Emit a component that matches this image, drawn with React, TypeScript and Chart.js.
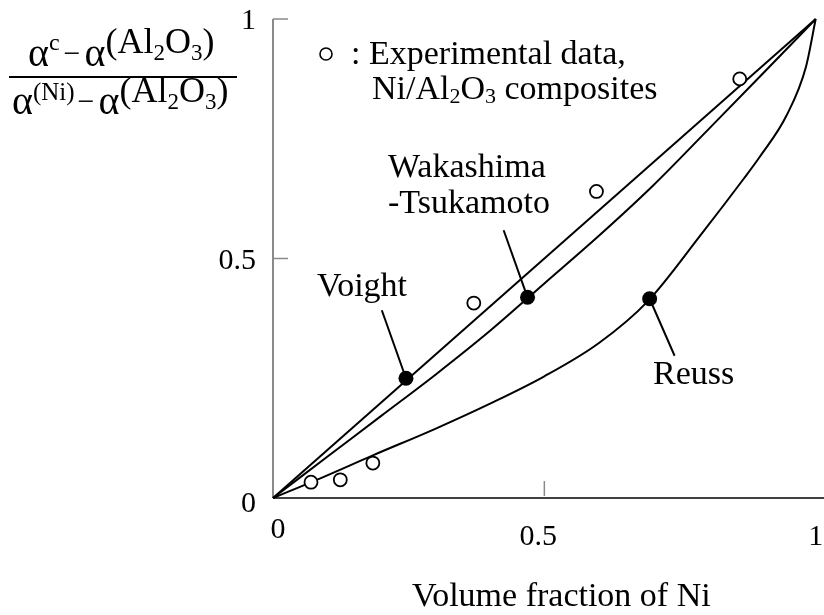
import React, { useEffect, useRef } from 'react';
import { Chart, registerables } from 'chart.js';

Chart.register(...registerables);

// ---- data ----
const voigtX = [0, 1];
const voigtY = [0, 1];

const wakaX = [0, 0.1, 0.2, 0.3, 0.4, 0.5, 0.6, 0.7, 0.8, 0.9, 1.0];
const wakaY = [0, 0.086, 0.172, 0.258, 0.349, 0.448, 0.547, 0.652, 0.767, 0.883, 1.0];

const reussX = [0, 0.085, 0.184, 0.3, 0.4, 0.5, 0.6, 0.69, 0.79, 0.867, 0.898, 0.946, 0.982, 1];
const reussY = [0, 0.04, 0.089, 0.145, 0.197, 0.254, 0.323, 0.41, 0.552, 0.666, 0.714, 0.798, 0.9, 1];

const expX = [0.07, 0.124, 0.184, 0.37, 0.596, 0.86];
const expY = [0.033, 0.038, 0.073, 0.407, 0.64, 0.875];

const markX = [0.245, 0.469, 0.694];
const markY = [0.25, 0.419, 0.416];

// leader lines: [label end, marker]
const voigtLeaderX = [0.2005, 0.245];
const voigtLeaderY = [0.392, 0.25];
const wakaLeaderX = [0.425, 0.469];
const wakaLeaderY = [0.559, 0.419];
const reussLeaderX = [0.694, 0.74];
const reussLeaderY = [0.416, 0.297];

const xTicks = [0, 0.5, 1];
const xTickLabels = ['0', '0.5', '1'];
const yTicks = [0, 0.5, 1];
const yTickLabels = ['0', '0.5', '1'];

const SERIF = "'Liberation Serif', 'Times New Roman', serif";

const pts = (xs: number[], ys: number[]) => xs.map((x, i) => ({ x, y: ys[i] }));

// [text, font size, baseline shift, gap after]
type Run = [string, number, number, number?];
function drawRuns(ctx: CanvasRenderingContext2D, x: number, base: number, runs: Run[]) {
  for (const [t, size, dy, gap] of runs) {
    ctx.font = `${size}px ${SERIF}`;
    ctx.fillText(t, x, base + dy);
    x += ctx.measureText(t).width + (gap || 0);
  }
  return x;
}

const decorPlugin = {
  id: 'decor',
  beforeDatasetsDraw(chart: any) {
    const ctx: CanvasRenderingContext2D = chart.ctx;
    const xs = chart.scales.x;
    const ys = chart.scales.y;
    const x0 = xs.getPixelForValue(0);
    const y0 = ys.getPixelForValue(0);
    const y1 = ys.getPixelForValue(1);
    ctx.save();
    // y axis (grey)
    ctx.strokeStyle = '#8a8a8a';
    ctx.lineWidth = 2;
    ctx.beginPath();
    ctx.moveTo(x0, y1);
    ctx.lineTo(x0, y0);
    ctx.stroke();
    // y ticks (inward)
    ctx.lineWidth = 1.5;
    for (const v of yTicks.slice(1)) {
      const p = ys.getPixelForValue(v);
      ctx.beginPath();
      ctx.moveTo(x0, p);
      ctx.lineTo(x0 + 15, p);
      ctx.stroke();
    }
    // x ticks (inward, grey, short)
    for (const v of xTicks.slice(1, -1)) {
      const p = xs.getPixelForValue(v);
      ctx.beginPath();
      ctx.moveTo(p, y0 - 2);
      ctx.lineTo(p, y0 - 17);
      ctx.stroke();
    }
    // x axis (black)
    ctx.strokeStyle = '#000';
    ctx.lineWidth = 1.6;
    ctx.beginPath();
    ctx.moveTo(x0, y0);
    ctx.lineTo(chart.width, y0);
    ctx.stroke();
    ctx.restore();
  },
  afterDraw(chart: any) {
    const ctx: CanvasRenderingContext2D = chart.ctx;
    const xs = chart.scales.x;
    const ys = chart.scales.y;
    const x0 = xs.getPixelForValue(0);
    const y0 = ys.getPixelForValue(0);
    ctx.save();
    ctx.fillStyle = '#000';
    ctx.textBaseline = 'alphabetic';

    // tick labels
    ctx.font = `30px ${SERIF}`;
    ctx.textAlign = 'right';
    yTicks.forEach((v, i) => {
      ctx.fillText(yTickLabels[i], x0 - 17, ys.getPixelForValue(v) + (i === 0 ? 14 : 10));
    });
    ctx.textAlign = 'center';
    xTicks.forEach((v, i) => {
      ctx.fillText(xTickLabels[i], xs.getPixelForValue(v) + (i === 0 ? 5 : i === 1 ? -6 : 0), y0 + (i === 0 ? 40 : 47));
    });

    // axis title
    ctx.textAlign = 'left';
    ctx.font = `34px ${SERIF}`;
    ctx.fillText('Volume fraction of Ni', 412, 606);

    // annotations
    ctx.fillText('Voight', 317, 296);
    ctx.fillText('Wakashima', 388, 177);
    ctx.fillText('-Tsukamoto', 388, 213);
    ctx.fillText('Reuss', 653, 384);

    // legend
    ctx.strokeStyle = '#000';
    ctx.lineWidth = 1.6;
    ctx.beginPath();
    ctx.arc(326, 54, 6, 0, Math.PI * 2);
    ctx.stroke();
    ctx.fillText(': Experimental data,', 351, 64);
    drawRuns(ctx, 372, 99, [
      ['Ni/Al', 34, 0],
      ['2', 22, 4],
      ['O', 34, 0],
      ['3', 22, 4],
      [' composites', 34, 0],
    ]);

    // y-axis label (fraction)
    drawRuns(ctx, 28, 66, [
      ['α', 40, 0],
      ['c', 24, -16, 4],
      ['−', 30, -3, 4],
      ['α', 40, 0],
      ['(Al', 36, -13],
      ['2', 23, -6],
      ['O', 36, -13],
      ['3', 23, -6],
      [')', 36, -13],
    ]);
    ctx.lineWidth = 2;
    ctx.beginPath();
    ctx.moveTo(9, 77);
    ctx.lineTo(237, 77);
    ctx.stroke();
    drawRuns(ctx, 12, 114, [
      ['α', 40, 0],
      ['(Ni)', 25, -14, 3],
      ['−', 30, -3, 4],
      ['α', 40, 0],
      ['(Al', 36, -12],
      ['2', 23, -5],
      ['O', 36, -12],
      ['3', 23, -5],
      [')', 36, -12],
    ]);
    ctx.restore();
  },
};

export default function App() {
  const ref = useRef<HTMLCanvasElement>(null);
  useEffect(() => {
    const canvas = ref.current!;
    const line = (label: string, xs: number[], ys: number[], order: number, smooth = false) => ({
      label,
      data: pts(xs, ys),
      showLine: true,
      borderColor: '#000',
      backgroundColor: '#000',
      borderWidth: 2,
      pointRadius: 0,
      pointHoverRadius: 0,
      fill: false,
      clip: false as any,
      order,
      ...(smooth ? { cubicInterpolationMode: 'monotone' as const } : {}),
    });
    const chart = new Chart(canvas, {
      type: 'scatter',
      data: {
        datasets: [
          line('Voigt', voigtX, voigtY, 10),
          line('Wakashima-Tsukamoto', wakaX, wakaY, 10, true),
          line('Reuss', reussX, reussY, 10, true),
          line('Voigt leader', voigtLeaderX, voigtLeaderY, 9),
          line('Wakashima leader', wakaLeaderX, wakaLeaderY, 9),
          line('Reuss leader', reussLeaderX, reussLeaderY, 9),
          {
            label: 'Model points',
            data: pts(markX, markY),
            pointRadius: 7.5,
            pointBackgroundColor: '#000',
            pointBorderColor: '#000',
            borderWidth: 0,
            showLine: false,
            clip: false as any,
            order: 1,
          },
          {
            label: 'Experimental data',
            data: pts(expX, expY),
            pointRadius: 6.5,
            pointBackgroundColor: '#fff',
            pointBorderColor: '#000',
            pointBorderWidth: 1.8,
            showLine: false,
            clip: false as any,
            order: 0,
          },
        ],
      },
      options: {
        responsive: false,
        animation: false,
        devicePixelRatio: 1,
        layout: { padding: { left: 273, right: 1, top: 19, bottom: 117 } },
        plugins: { legend: { display: false }, tooltip: { enabled: false } },
        events: [],
        scales: {
          x: { type: 'linear', min: 0, max: 1, display: false },
          y: { type: 'linear', min: 0, max: 1, display: false },
        },
      },
      plugins: [decorPlugin],
    });
    return () => chart.destroy();
  }, []);
  return (
    <canvas
      ref={ref}
      width={824}
      height={615}
      style={{ position: 'fixed', left: 0, top: 0, display: 'block', background: '#fff' }}
    />
  );
}
